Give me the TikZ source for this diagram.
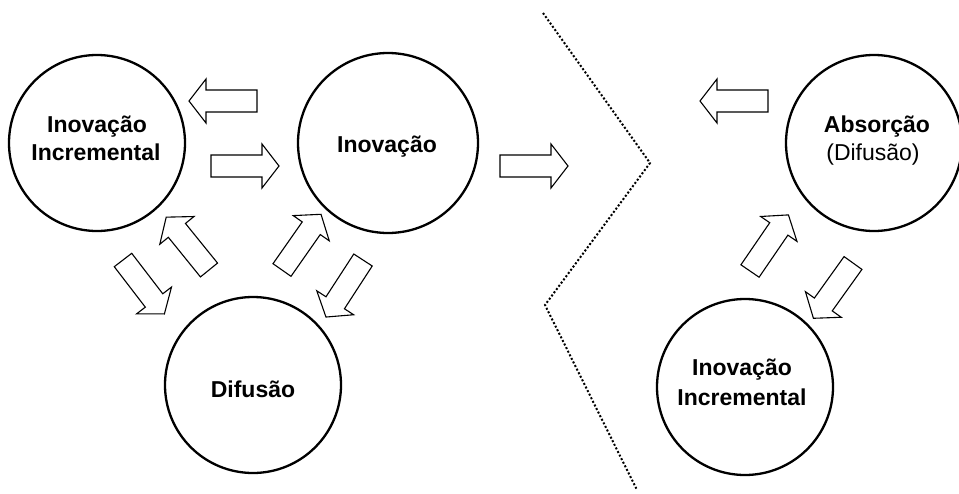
\documentclass[tikz,border=0pt]{standalone}
\usepackage{fontspec}
\setmainfont{Liberation Sans}
\tikzset{
  ring/.style={circle, draw=black, line width=2.3pt, fill=white, inner sep=0pt},
  lab/.style={anchor=base, inner sep=0pt, font=\fontsize{23}{28}\selectfont\bfseries},
  labreg/.style={anchor=base, inner sep=0pt, font=\fontsize{23}{28}\selectfont},
  arrowline/.style={draw=black, line width=1.1pt, fill=white, line join=miter},
  zig/.style={line width=2pt, dash pattern=on 2pt off 2pt},
}
\newcommand{\blockarr}[2]{%
  \begin{scope}[shift={(#1)}, rotate=#2]
    \draw[arrowline] (0,-11) -- (51,-11) -- (51,-22) -- (68,0) -- (51,22) -- (51,11) -- (0,11) -- cycle;
  \end{scope}}
\begin{document}
\begin{tikzpicture}[x=1pt, y=-1pt]
  \useasboundingbox (0,0) rectangle (959,493);
  \fill[white] (0,0) rectangle (959,493);

  % circles
  \node[ring, minimum size=176pt] (inc) at (97,143) {};
  \node[ring, minimum size=180pt] (inov) at (388,143) {};
  \node[ring, minimum size=176pt] (dif) at (253,385) {};
  \node[ring, minimum size=176pt] (abs) at (874,143) {};
  \node[ring, minimum size=176pt] (inc2) at (745,387) {};

  % labels
  \node[lab] (incA) at (97,132) {Inovação};
  \node[lab] (incB) at (96,160) {Incremental};
  \node[lab] (inovA) at (387,152) {Inovação};
  \node[lab] (difA) at (253,397) {Difusão};
  \node[lab] (absA) at (877,132) {Absorção};
  \node[labreg] (absB) at (873,160) {(Difusão)};
  \node[lab] (inc2A) at (742,375) {Inovação};
  \node[lab] (inc2B) at (742,405) {Incremental};

  % block arrows
  \blockarr{257,101}{180}
  \blockarr{211,166}{0}
  \blockarr{500,166}{0}
  \blockarr{209,270}{129}
  \blockarr{123,260}{-52.5}
  \blockarr{282,270}{55}
  \blockarr{363,260}{-123}
  \blockarr{768,101}{180}
  \blockarr{750,271}{55.6}
  \blockarr{853,263}{-125.6}

  % dotted zigzag
  \coordinate (z1) at (543,13);
  \coordinate (z2) at (650,163);
  \coordinate (z3) at (545,305);
  \coordinate (z4) at (637,490);
  \draw[zig] (z1) -- (z2) -- (z3) -- (z4);
\end{tikzpicture}
\end{document}
